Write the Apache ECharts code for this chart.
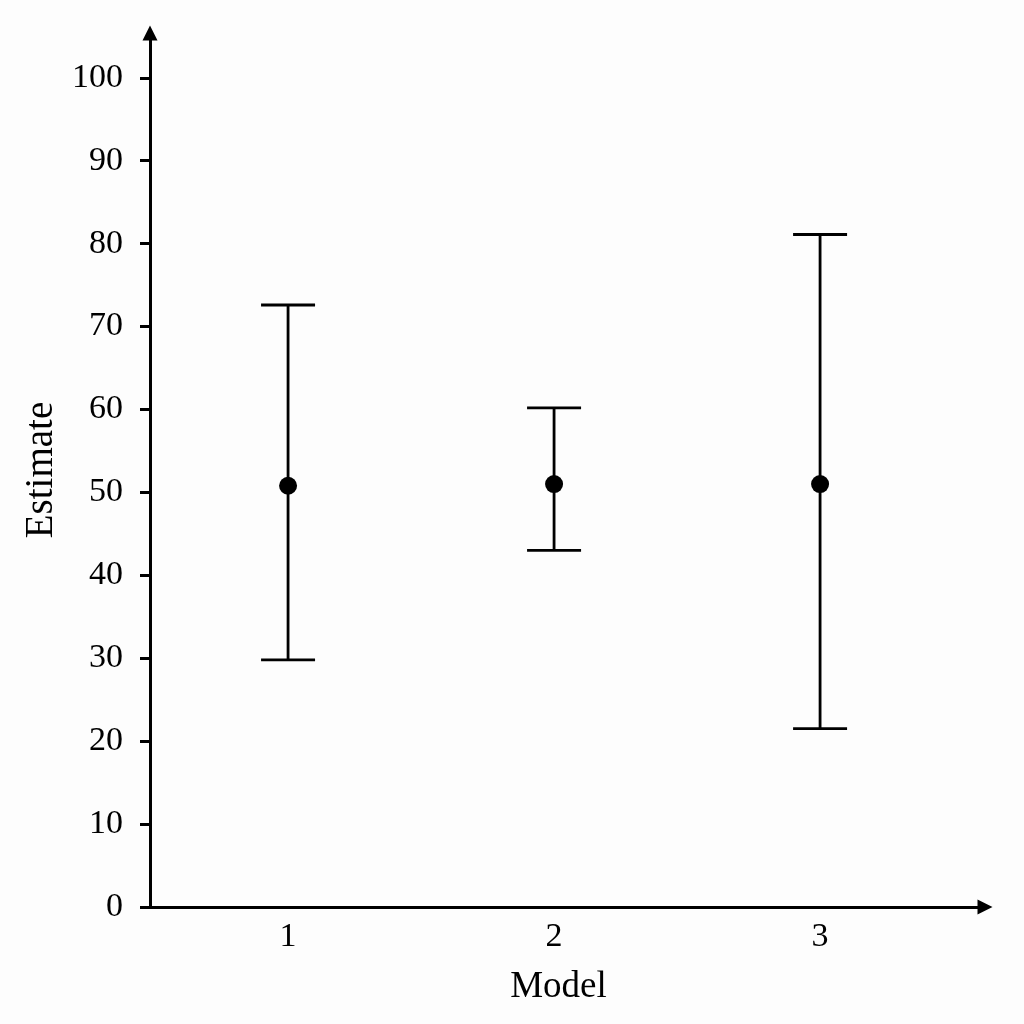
<!DOCTYPE html>
<html>
<head>
<meta charset="utf-8">
<script src="https://cdn.jsdelivr.net/npm/echarts@6/dist/echarts.min.js"></script>
<style>
  html, body { margin: 0; padding: 0; background: #fdfdfd; }
  #chart { width: 1024px; height: 1024px; }
</style>
</head>
<body>
<div id="chart"></div>
<script>
// data
const models = [1, 2, 3];
const estimates = [50.8, 51.0, 51.0];
const lowerCI = [29.8, 43.0, 21.5];
const upperCI = [72.6, 60.2, 81.1];
const yTicks = [0, 10, 20, 30, 40, 50, 60, 70, 80, 90, 100];

const font = '"Liberation Serif", "DejaVu Serif", serif';

const chart = echarts.init(document.getElementById('chart'));

const errData = models.map((m, i) => [m, lowerCI[i], upperCI[i]]);
const pointData = models.map((m, i) => [m, estimates[i]]);

// whiskers + caps
function renderErr(params, api) {
  const x = api.value(0);
  const lo = api.coord([x, api.value(1)]);
  const hi = api.coord([x, api.value(2)]);
  const half = 27;
  const style = { stroke: '#000', lineWidth: 2.8 };
  return {
    type: 'group',
    children: [
      { type: 'line', shape: { x1: lo[0], y1: lo[1], x2: hi[0], y2: hi[1] }, style },
      { type: 'line', shape: { x1: hi[0] - half, y1: hi[1], x2: hi[0] + half, y2: hi[1] }, style },
      { type: 'line', shape: { x1: lo[0] - half, y1: lo[1], x2: lo[0] + half, y2: lo[1] }, style }
    ]
  };
}

const option = {
  backgroundColor: '#fdfdfd',
  animation: false,
  grid: { left: 150, right: 39, top: 33, bottom: 117, containLabel: false },
  xAxis: {
    type: 'value',
    min: 0.481,
    max: 3.62,
    name: 'Model',
    nameLocation: 'middle',
    nameGap: 62,
    nameTextStyle: { fontFamily: font, fontSize: 37, color: '#000', padding: [0, 18, 0, 0] },
    splitLine: { show: false },
    axisTick: { show: false },
    axisLine: {
      show: true,
      lineStyle: { color: '#000', width: 3 },
      symbol: ['none', 'triangle'],
      symbolSize: [15, 15]
    },
    axisLabel: {
      customValues: models,
      formatter: v => String(v),
      fontFamily: font, fontSize: 34, color: '#000', margin: 13
    }
  },
  yAxis: {
    type: 'value',
    min: 0,
    max: 105.4,
    name: 'Estimate',
    nameLocation: 'middle',
    nameGap: 87,
    nameTextStyle: { fontFamily: font, fontSize: 39, color: '#000' },
    splitLine: { show: false },
    axisLine: {
      show: true,
      lineStyle: { color: '#000', width: 3 },
      symbol: ['none', 'triangle'],
      symbolSize: [15, 15]
    },
    axisTick: {
      show: true,
      customValues: yTicks,
      length: 10,
      lineStyle: { color: '#000', width: 3 }
    },
    axisLabel: {
      customValues: yTicks,
      fontFamily: font, fontSize: 34, color: '#000', margin: 27
    }
  },
  series: [
    {
      type: 'custom',
      renderItem: renderErr,
      data: errData,
      encode: { x: 0, y: [1, 2] },
      z: 2
    },
    {
      type: 'scatter',
      data: pointData,
      symbol: 'circle',
      symbolSize: 18,
      itemStyle: { color: '#000', opacity: 1 },
      z: 3
    }
  ]
};

chart.setOption(option);
</script>
</body>
</html>
